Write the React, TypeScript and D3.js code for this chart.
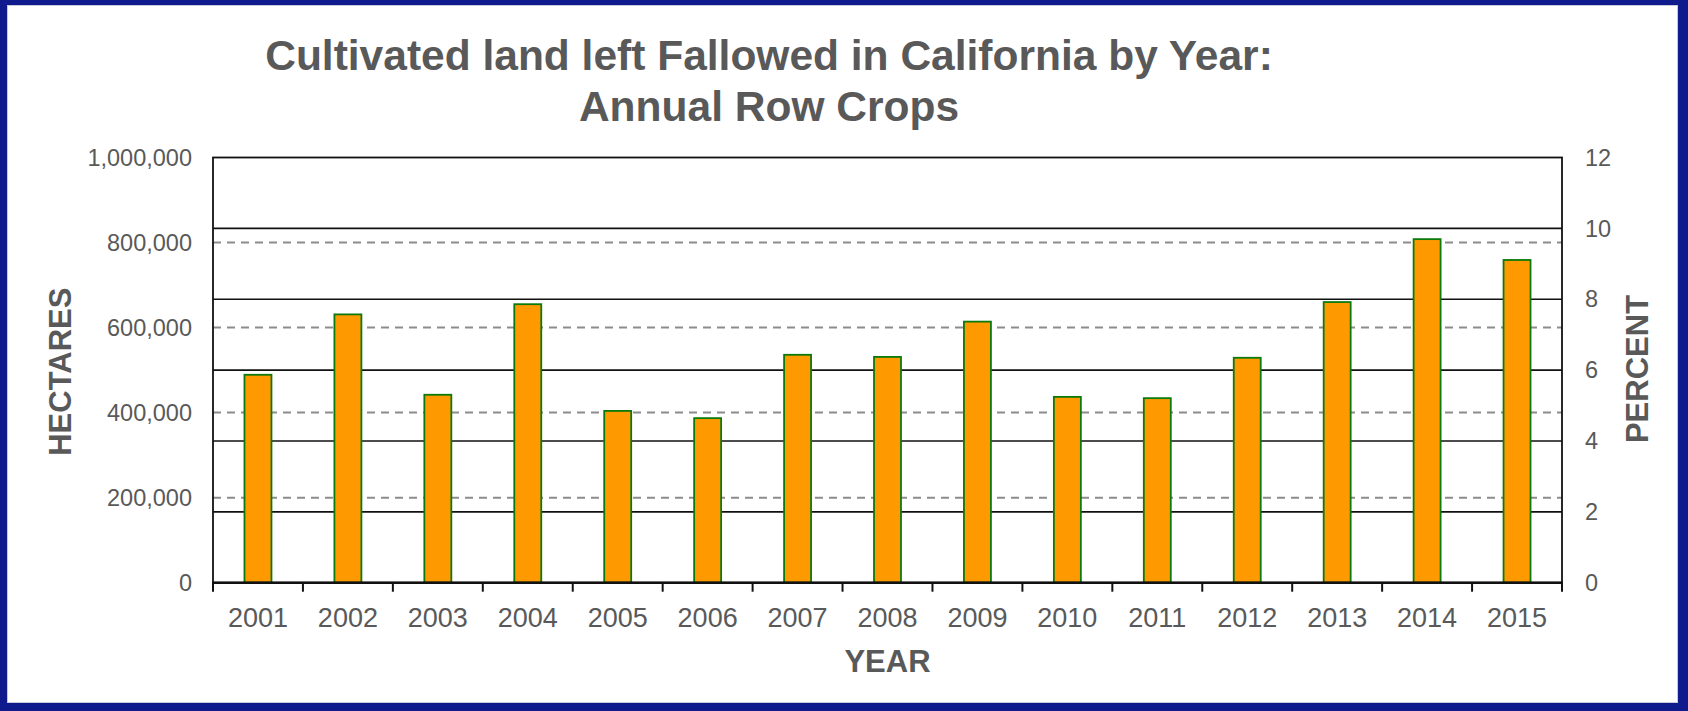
import React from "react";
import * as d3 from "d3";

const years = ["2001","2002","2003","2004","2005","2006","2007","2008","2009","2010","2011","2012","2013","2014","2015"];
const hectares = [489000, 631000, 442000, 655000, 404000, 387000, 536000, 531000, 614000, 437000, 434000, 529000, 660000, 808000, 759000];
const leftTicks = [0, 200000, 400000, 600000, 800000, 1000000];
const rightTicks = [0, 2, 4, 6, 8, 10, 12];
const titleLines = ["Cultivated land left Fallowed in California by Year:", "Annual Row Crops"];

const W = 1688, H = 711;
const L = 213, R = 1562, T = 157.5, B = 582.7;
const FONT = "'Liberation Sans', Arial, sans-serif";
const GRAY = "#595959";

export default function App() {
  const x = d3.scaleBand<string>().domain(years).range([L, R]).padding(0);
  const yL = d3.scaleLinear().domain([0, 1000000]).range([B, T]);
  const yR = d3.scaleLinear().domain([0, 12]).range([B, T]);
  const fmt = d3.format(",");
  const bw = x.bandwidth() * 0.3;
  const boundaries = years.map((y) => x(y)!).concat([R]);

  return (
    <svg width={W} height={H} style={{ position: "absolute", left: 0, top: 0 }} xmlns="http://www.w3.org/2000/svg">
      <rect x={0} y={0} width={W} height={H} fill="#0f1a8c" />
      <rect x={7.5} y={5.5} width={1670} height={697} fill="#ffffff" stroke="#c8c8d8" strokeWidth={1} />

      {/* title */}
      {titleLines.map((t, i) => (
        <text key={i} x={769} y={70 + i * 50.5} textAnchor="middle" fontFamily={FONT} fontWeight="bold" fontSize={42.5} fill={GRAY}>{t}</text>
      ))}

      {/* dashed left gridlines */}
      {leftTicks.filter((v) => v > 0 && v < 1000000).map((v) => (
        <line key={"d" + v} x1={L} x2={R} y1={yL(v)} y2={yL(v)} stroke="#8c8c8c" strokeWidth={2} strokeDasharray="8,6" />
      ))}
      {/* solid right gridlines */}
      {rightTicks.filter((v) => v > 0 && v < 12).map((v) => (
        <line key={"s" + v} x1={L} x2={R} y1={yR(v)} y2={yR(v)} stroke="#111" strokeWidth={1.6} />
      ))}

      {/* bars */}
      {years.map((yr, i) => (
        <rect key={yr} x={x(yr)! + (x.bandwidth() - bw) / 2} y={yL(hectares[i])} width={bw} height={B - yL(hectares[i])}
          fill="#FF9900" stroke="#0a7a0a" strokeWidth={1.8} />
      ))}

      {/* plot border */}
      <rect x={L} y={T} width={R - L} height={B - T} fill="none" stroke="#111" strokeWidth={1.8} />
      <line x1={L - 1} x2={R + 1} y1={B} y2={B} stroke="#111" strokeWidth={2.4} />

      {/* x ticks */}
      {boundaries.map((bx, i) => (
        <line key={"t" + i} x1={bx} x2={bx} y1={B} y2={B + 9} stroke="#111" strokeWidth={2} />
      ))}

      {/* x labels */}
      {years.map((yr) => (
        <text key={"xl" + yr} x={x(yr)! + x.bandwidth() / 2} y={626.5} textAnchor="middle" fontFamily={FONT} fontSize={27} fill={GRAY}>{yr}</text>
      ))}

      {/* left labels */}
      {leftTicks.map((v) => (
        <text key={"ll" + v} x={192} y={yL(v)} dy="0.35em" textAnchor="end" fontFamily={FONT} fontSize={23.5} fill={GRAY}>{fmt(v)}</text>
      ))}
      {/* right labels */}
      {rightTicks.map((v) => (
        <text key={"rl" + v} x={1585} y={yR(v)} dy="0.35em" textAnchor="start" fontFamily={FONT} fontSize={23.5} fill={GRAY}>{v}</text>
      ))}

      {/* axis titles */}
      <text transform={`translate(71,${371.7}) rotate(-90)`} textAnchor="middle" fontFamily={FONT} fontWeight="bold" fontSize={31} fill={GRAY}>HECTARES</text>
      <text transform={`translate(1648,${369}) rotate(-90)`} textAnchor="middle" fontFamily={FONT} fontWeight="bold" fontSize={31} fill={GRAY}>PERCENT</text>
      <text x={(L + R) / 2} y={672} textAnchor="middle" fontFamily={FONT} fontWeight="bold" fontSize={31} fill={GRAY}>YEAR</text>
    </svg>
  );
}
